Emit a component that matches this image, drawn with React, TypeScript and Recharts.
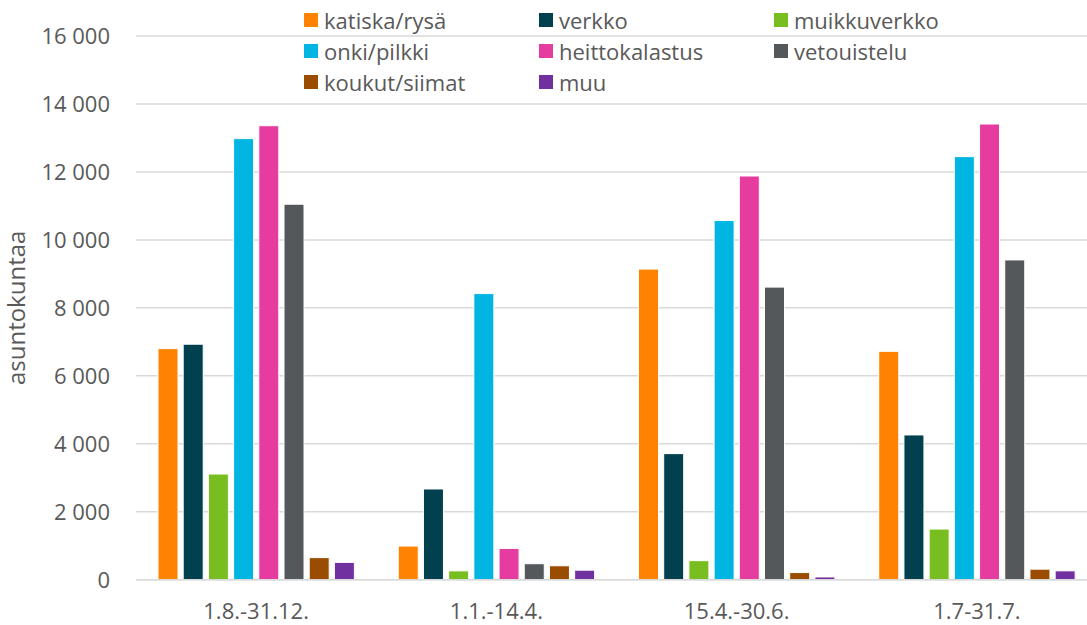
import { Bar, BarChart, CartesianGrid, XAxis, YAxis } from 'recharts';

const periods = ['1.8.-31.12.', '1.1.-14.4.', '15.4.-30.6.', '1.7-31.7.'];

const katiska = [6800, 990, 9140, 6720];
const verkko = [6930, 2670, 3710, 4260];
const muikkuverkko = [3110, 260, 560, 1490];
const onki = [12980, 8420, 10570, 12450];
const heitto = [13360, 920, 11880, 13410];
const vetouistelu = [11050, 470, 8610, 9410];
const koukut = [650, 410, 210, 310];
const muu = [510, 280, 80, 260];

const yTicks = [0, 2000, 4000, 6000, 8000, 10000, 12000, 14000, 16000];

const series = [
  { key: 'katiska', name: 'katiska/rysä', values: katiska, color: '#FF8200' },
  { key: 'verkko', name: 'verkko', values: verkko, color: '#01404F' },
  { key: 'muikku', name: 'muikkuverkko', values: muikkuverkko, color: '#78BE21' },
  { key: 'onki', name: 'onki/pilkki', values: onki, color: '#00B5E2' },
  { key: 'heitto', name: 'heittokalastus', values: heitto, color: '#E63C9F' },
  { key: 'vetou', name: 'vetouistelu', values: vetouistelu, color: '#54585A' },
  { key: 'koukut', name: 'koukut/siimat', values: koukut, color: '#9A4D00' },
  { key: 'muu', name: 'muu', values: muu, color: '#7030A0' },
];

const rows = periods.map((p, i) => {
  const row: Record<string, string | number> = { period: p };
  series.forEach((s) => {
    row[s.key] = s.values[i];
  });
  return row;
});

const textColor = '#595959';
const fmt = (v: number) => v.toLocaleString('en-US').replace(/,/g, ' ');

function Legend() {
  return (
    <div style={{ position: 'absolute', left: 304, top: 0 }}>
      {series.map((s, i) => {
        const col = i % 3;
        const row = Math.floor(i / 3);
        return (
          <div
            key={s.key}
            style={{
              position: 'absolute',
              left: col * 235,
              top: 5 + row * 31,
              height: 30,
              display: 'flex',
              alignItems: 'center',
              whiteSpace: 'nowrap',
            }}
          >
            <span style={{ width: 14, height: 14, background: s.color, display: 'inline-block', marginRight: 6 }} />
            <span style={{ fontSize: 22, color: textColor, lineHeight: '30px' }}>{s.name}</span>
          </div>
        );
      })}
    </div>
  );
}

export default function App() {
  return (
    <div
      style={{
        position: 'absolute',
        left: 0,
        top: 0,
        width: 1087,
        height: 625,
        overflow: 'hidden',
        fontFamily: '"Open Sans", sans-serif',
        background: '#fff',
      }}
    >
      <BarChart
        width={1097}
        height={625}
        data={rows}
        margin={{ top: 36, right: 0, left: 0, bottom: 0 }}
        barSize={20}
        barGap={5.2}
      >
        <CartesianGrid vertical={false} stroke="#D9D9D9" strokeWidth={1.5} />
        <XAxis
          dataKey="period"
          height={45.3}
          tickLine={false}
          tickSize={0}
          tickMargin={24}
          axisLine={{ stroke: '#D9D9D9', strokeWidth: 1.5 }}
          tick={{ fill: textColor, fontSize: 22 }}
        />
        <YAxis
          width={136}
          domain={[0, 16000]}
          ticks={yTicks}
          interval={0}
          tickFormatter={fmt}
          axisLine={false}
          tickLine={false}
          tickSize={0}
          tickMargin={26}
          tick={{ fill: textColor, fontSize: 22 }}
          label={{
            value: 'asuntokuntaa',
            angle: -90,
            position: 'insideLeft',
            offset: 16.5,
            style: { textAnchor: 'middle', fill: textColor, fontSize: 24 },
          }}
        />
        {series.map((s) => (
          <Bar
            key={s.key}
            dataKey={s.key}
            name={s.name}
            fill={s.color}
            stroke="#FFFFFF"
            strokeWidth={1}
            isAnimationActive={false}
          />
        ))}
      </BarChart>
      <Legend />
    </div>
  );
}
